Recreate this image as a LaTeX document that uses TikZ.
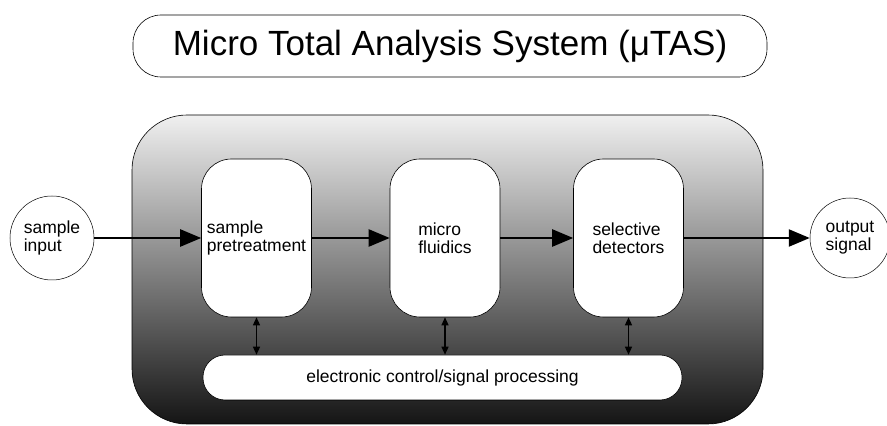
\documentclass[tikz,border=0pt]{standalone}
\usepackage{fontspec}
\setmainfont{Liberation Sans}
\usetikzlibrary{arrows.meta}

\begin{document}
\begin{tikzpicture}[x=1pt, y=1pt, font=\fontsize{17.5}{18}\selectfont,
    stage/.style={draw, rectangle, rounded corners=30pt, fill=white, line width=0.6pt, minimum width=110pt, minimum height=158pt, align=left},
    port/.style={draw, circle, line width=0.5pt, align=left},
    flow/.style={-{Triangle[length=21pt,width=17pt]}, line width=2.4pt},
    link/.style={{Triangle[length=8pt,width=7pt]}-{Triangle[length=8pt,width=7pt]}, line width=1.3pt}]
    \useasboundingbox (0,0) rectangle (887,426);

    % Title
    \node[draw, rectangle, rounded corners=28pt, line width=0.6pt, minimum width=634pt, minimum height=62pt, font=\fontsize{35}{40}\selectfont] (title) at (450,380) {Micro Total Analysis System (μTAS)};

    % Chip body
    \node[draw, rectangle, rounded corners=55pt, line width=0.6pt, top color=black!6, bottom color=black!92, minimum width=631pt, minimum height=309pt] (chip) at (447.5,156.5) {};

    % Process stages
    \node[stage] (pre) at (256.5,188) {sample\\pretreatment};
    \node[stage] (fluid) at (445,188) {micro\\fluidics};
    \node[stage] (detect) at (628.5,188) {selective\\detectors};

    % Control bar
    \node[draw, rectangle, rounded corners=22pt, fill=white, line width=0.6pt, minimum width=479pt, minimum height=45pt] (ctrl) at (442.5,48.5) {electronic control/signal processing};

    % Input and output
    \node[port, minimum size=84pt] (in) at (52,188) {sample\\input};
    \node[port, minimum size=80pt] (out) at (850,188) {output\\signal};

    % Sample path
    \draw[flow] (in) -- (pre);
    \draw[flow] (pre) -- (fluid);
    \draw[flow] (fluid) -- (detect);
    \draw[flow] (detect) -- (out);

    % Control links
    \draw[link] (pre.south) -- (pre.south |- ctrl.north);
    \draw[link] (fluid.south) -- (fluid.south |- ctrl.north);
    \draw[link] (detect.south) -- (detect.south |- ctrl.north);

\end{tikzpicture}
\end{document}
